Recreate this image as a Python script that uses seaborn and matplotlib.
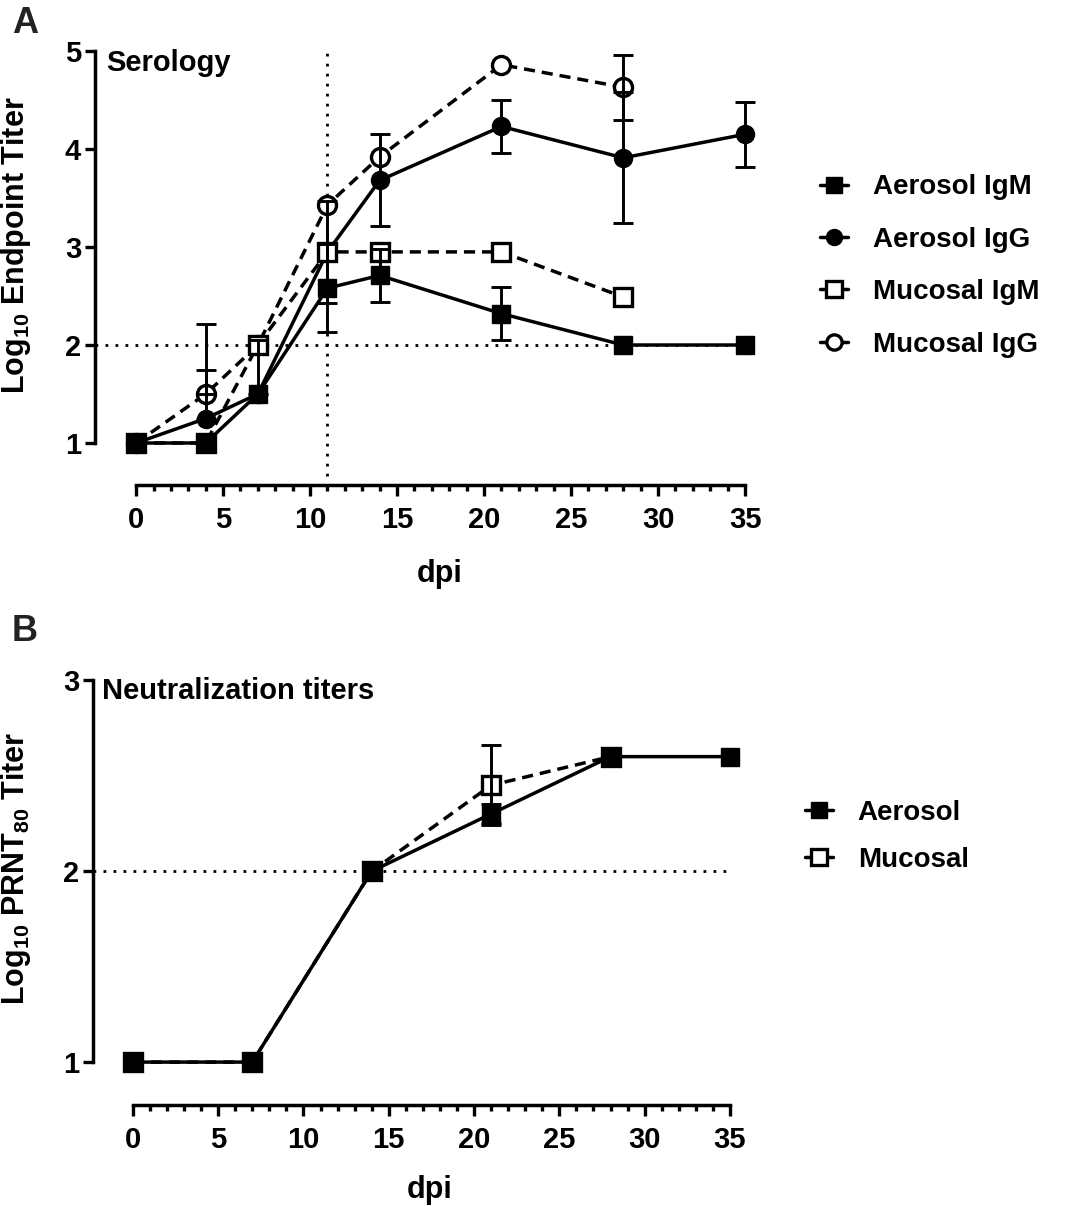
import numpy as np
import pandas as pd
import matplotlib
matplotlib.use("Agg")
import matplotlib.pyplot as plt
import seaborn as sns
from matplotlib.ticker import FixedLocator
from matplotlib.lines import Line2D

# ---------------- data ----------------
days_aer = [0, 4, 7, 11, 14, 21, 28, 35]
aer_igm = [1.0, 1.0, 1.5, 2.58, 2.71, 2.32, 2.0, 2.0]
aer_igm_sd = [0, 0, 0.55, 0.45, 0.27, 0.27, 0, 0]
aer_igg = [1.0, 1.25, 1.5, 2.95, 3.68, 4.23, 3.91, 4.15]
aer_igg_sd = [0, 0.5, 0, 0.52, 0.47, 0.27, 0.67, 0.33]

days_muc = [0, 4, 7, 11, 14, 21, 28]
muc_igm = [1.0, 1.0, 2.0, 2.95, 2.95, 2.95, 2.49]
muc_igm_sd = [0, 0, 0, 0, 0, 0, 0]
muc_igg = [1.0, 1.5, 2.0, 3.43, 3.92, 4.86, 4.63]
muc_igg_sd = [0, 0.71, 0, 0, 0, 0, 0.33]

days_prnt_aer = [0, 7, 14, 21, 28, 35]
prnt_aer = [1.0, 1.0, 2.0, 2.30, 2.60, 2.60]
prnt_aer_sd = [0, 0, 0, 0.05, 0, 0]
days_prnt_muc = [0, 7, 14, 21, 28]
prnt_muc = [1.0, 1.0, 2.0, 2.45, 2.60]
prnt_muc_sd = [0, 0, 0, 0.21, 0]

threshold = 2.0
vline_day = 11
x_ticks = [0, 5, 10, 15, 20, 25, 30, 35]
yA_ticks = [1, 2, 3, 4, 5]
yB_ticks = [1, 2, 3]
labels_A = ["Aerosol IgM", "Aerosol IgG", "Mucosal IgM", "Mucosal IgG"]
labels_B = ["Aerosol", "Mucosal"]

# ---------------- style ----------------
sns.set_theme(style="ticks")
plt.rcParams["font.family"] = ["Liberation Sans", "DejaVu Sans"]
plt.rcParams["font.weight"] = "bold"
plt.rcParams["axes.labelweight"] = "bold"
plt.rcParams["text.color"] = "black"
plt.rcParams["axes.labelcolor"] = "black"
plt.rcParams["xtick.color"] = "black"
plt.rcParams["ytick.color"] = "black"
plt.rcParams["axes.edgecolor"] = "black"
plt.rcParams["mathtext.fontset"] = "custom"
plt.rcParams["mathtext.rm"] = "Liberation Sans:bold"
plt.rcParams["mathtext.bf"] = "Liberation Sans:bold"
plt.rcParams["mathtext.default"] = "bf"

LW = 2.5
DASH = (3.2, 2.0)
DOT = (0, (1, 2.6))
TICK_FS = 21
LABEL_FS = 22
LEG_FS = 20
MS_FSQ = 13
MS_FCI = 13
MS_OPEN = 13
MEW_OPEN = 2.4

fig = plt.figure(figsize=(10.74, 12.06), dpi=100)
axA = fig.add_axes([0.0885, 0.5978, 0.7099 - 0.0885, 0.9699 - 0.5978])
axB = fig.add_axes([0.0866, 0.0837, 0.6955 - 0.0866, 0.4486 - 0.0837])


def series(ax, x, y, marker, filled, dashed, z, ms):
    df = pd.DataFrame({"x": x, "y": y})
    kw = dict(color="black", marker=marker, markersize=ms, linewidth=LW,
              markeredgecolor="black", zorder=z, legend=False)
    if filled:
        kw.update(markerfacecolor="black", markeredgewidth=1.0)
    else:
        kw.update(markerfacecolor="white", markeredgewidth=MEW_OPEN)
    line_ax = sns.lineplot(data=df, x="x", y="y", ax=ax, **kw)
    ln = line_ax.get_lines()[-1]
    if dashed:
        ln.set_dashes(DASH)
    return ln


def errbars(ax, x, y, sd, ymin):
    y = np.asarray(y, float)
    sd = np.asarray(sd, float)
    lower = np.where(y - sd <= ymin + 1e-9, 0.0, sd)
    mask = sd > 0
    ax.errorbar(np.asarray(x)[mask], y[mask], yerr=[lower[mask], sd[mask]],
                fmt="none", ecolor="black", elinewidth=2.1, capsize=7,
                capthick=2.1, zorder=20)


def style_axes(ax, yticks, ylim, xlim):
    ax.set_xlim(*xlim)
    ax.set_ylim(*ylim)
    for s in ["top", "right"]:
        ax.spines[s].set_visible(False)
    for s in ["left", "bottom"]:
        ax.spines[s].set_linewidth(2.5)
        ax.spines[s].set_color("black")
    ax.spines["left"].set_bounds(yticks[0], yticks[-1])
    ax.spines["bottom"].set_bounds(0, 35)
    ax.xaxis.set_major_locator(FixedLocator(x_ticks))
    ax.xaxis.set_minor_locator(FixedLocator([d for d in range(0, 36) if d % 5]))
    ax.yaxis.set_major_locator(FixedLocator(yticks))
    ax.set_xticklabels([str(t) for t in x_ticks])
    ax.set_yticklabels([str(t) for t in yticks])
    ax.tick_params(axis="x", which="major", length=8, width=2.4, pad=7,
                   labelsize=TICK_FS, colors="black")
    ax.tick_params(axis="x", which="minor", length=4.5, width=2.4, colors="black")
    ax.tick_params(axis="y", which="major", length=7, width=2.4, pad=3,
                   labelsize=TICK_FS, colors="black")
    for t in ax.get_xticklabels() + ax.get_yticklabels():
        t.set_fontweight("bold")
    ax.set_facecolor("white")


# ---------------- panel A ----------------
axA.axhline(threshold, xmin=0.0, xmax=(35 + 2.36) / (36 + 2.36), color="black",
            linewidth=2.0, linestyle=DOT, zorder=1)
axA.axvline(vline_day, ymin=0.02, ymax=(5.03 - 0.571) / (5.15 - 0.571),
            color="black", linewidth=2.0, linestyle=DOT, zorder=1)

series(axA, days_muc, muc_igg, "o", False, True, 3, MS_OPEN)
series(axA, days_aer, aer_igg, "o", True, False, 4, MS_FCI)
series(axA, days_muc, muc_igm, "s", False, True, 5, MS_OPEN)
series(axA, days_aer, aer_igm, "s", True, False, 6, MS_FSQ)

errbars(axA, days_aer, aer_igm, aer_igm_sd, 1.0)
errbars(axA, days_aer, aer_igg, aer_igg_sd, 1.0)
errbars(axA, days_muc, muc_igm, muc_igm_sd, 1.0)
errbars(axA, days_muc, muc_igg, muc_igg_sd, 1.0)

style_axes(axA, yA_ticks, (0.571, 5.15), (-2.36, 36))
axA.set_xlabel("dpi", fontsize=LABEL_FS, fontweight="bold")
axA.set_ylabel("Log$_{10}$ Endpoint Titer", fontsize=LABEL_FS, fontweight="bold")
axA.xaxis.set_label_coords(0.517, -0.165)
axA.yaxis.set_label_coords(-0.093, 0.535)
axA.text(0.016, 0.972, "Serology", transform=axA.transAxes, fontsize=21,
         fontweight="bold", va="top", ha="left")

# ---------------- panel B ----------------
axB.axhline(threshold, xmin=0.0, xmax=(35 + 2.34) / (36 + 2.34), color="black",
            linewidth=2.0, linestyle=DOT, zorder=1)
series(axB, days_prnt_muc, prnt_muc, "s", False, True, 3, MS_OPEN)
series(axB, days_prnt_aer, prnt_aer, "s", True, False, 5, MS_FSQ)
errbars(axB, days_prnt_aer, prnt_aer, prnt_aer_sd, 1.0)
errbars(axB, days_prnt_muc, prnt_muc, prnt_muc_sd, 1.0)

style_axes(axB, yB_ticks, (0.775, 3.08), (-2.34, 36))
axB.set_xlabel("dpi", fontsize=LABEL_FS, fontweight="bold")
axB.set_ylabel("Log$_{10}$ PRNT$_{80}$ Titer", fontsize=LABEL_FS, fontweight="bold")
axB.xaxis.set_label_coords(0.515, -0.16)
axB.yaxis.set_label_coords(-0.092, 0.539)
axB.text(0.014, 0.972, "Neutralization titers", transform=axB.transAxes,
         fontsize=21, fontweight="bold", va="top", ha="left")

# ---------------- legends ----------------
def handle(marker, filled, ms):
    return Line2D([], [], color="black", marker=marker, markersize=ms,
                  linewidth=LW, markeredgecolor="black",
                  markerfacecolor="black" if filled else "white",
                  markeredgewidth=1.0 if filled else MEW_OPEN)

hA = [handle("s", True, MS_FSQ - 1.5), handle("o", True, MS_FCI - 1.5),
      handle("s", False, MS_OPEN - 2), handle("o", False, MS_OPEN - 2)]
fig.legend(hA, labels_A, loc="center left", bbox_to_anchor=(0.7635, 0.7795),
           frameon=False, handlelength=1.0, handletextpad=0.9,
           labelspacing=0.95, borderpad=0, borderaxespad=0,
           prop={"weight": "bold", "size": LEG_FS})
hB = [handle("s", True, MS_FSQ - 1.5), handle("s", False, MS_OPEN - 2)]
fig.legend(hB, labels_B, loc="center left", bbox_to_anchor=(0.7495, 0.3066),
           frameon=False, handlelength=1.0, handletextpad=0.9,
           labelspacing=0.74, borderpad=0, borderaxespad=0,
           prop={"weight": "bold", "size": LEG_FS})

fig.text(12 / 1074, 1 - 6 / 1206, "A", fontsize=26, fontweight="bold",
         va="top", ha="left", color="#222222")
fig.text(12 / 1074, 1 - 614 / 1206, "B", fontsize=26, fontweight="bold",
         va="top", ha="left", color="#222222")

fig.savefig("out.png", dpi=100, facecolor="white")
